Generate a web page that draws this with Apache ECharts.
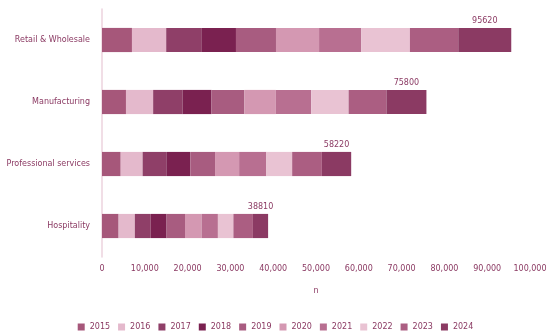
<!DOCTYPE html>
<html>
<head>
<meta charset="utf-8">
<script src="https://cdn.jsdelivr.net/npm/echarts@6/dist/echarts.min.js"></script>
<style>
  html, body { margin: 0; padding: 0; background: #ffffff; }
  #chart { width: 551px; height: 332px; }
</style>
</head>
<body>
<div id="chart"></div>
<script>
// Sectors, listed bottom to top as the category axis stacks them
const categories = ['Hospitality', 'Professional services', 'Manufacturing', 'Retail & Wholesale'];

// Yearly contributions per sector (one array per year, same order as categories)
const seriesNames = ['2015', '2016', '2017', '2018', '2019', '2020', '2021', '2022', '2023', '2024'];
const y2015 = [3880, 4370, 5600, 7000];
const y2016 = [3790, 5120, 6350, 8000];
const y2017 = [3710, 5540, 6850, 8200];
const y2018 = [3710, 5610, 6780, 8100];
const y2019 = [4300, 5770, 7690, 9350];
const y2020 = [3880, 5630, 7340, 10070];
const y2021 = [3810, 6360, 8270, 9860];
const y2022 = [3620, 6030, 8740, 11360];
const y2023 = [4560, 6940, 8830, 11300];
const y2024 = [3550, 6850, 9350, 12380];
const seriesValues = [y2015, y2016, y2017, y2018, y2019, y2020, y2021, y2022, y2023, y2024];

const palette = ['#a6577a', '#e4b9cc', '#8f3f68', '#7a2150', '#a85c80',
                 '#d498b2', '#b86f91', '#e9c3d3', '#ab5e82', '#8b3a63'];

const textColor = '#8b3a63';

// Bar totals shown above the last stacked segment
const totals = categories.map((_, i) => seriesValues.reduce((s, arr) => s + arr[i], 0));

const series = seriesNames.map((name, k) => ({
  name: name,
  type: 'bar',
  stack: 'total',
  barWidth: '39%',
  data: seriesValues[k],
  itemStyle: { color: palette[k] },
  label: k === seriesNames.length - 1 ? {
    show: true,
    position: 'top',
    distance: 3,
    color: textColor,
    fontSize: 8,
    fontFamily: 'DejaVu Sans',
    formatter: p => String(totals[p.dataIndex])
  } : { show: false }
}));

const chart = echarts.init(document.getElementById('chart'), null, { renderer: 'canvas' });
chart.setOption({
  animation: false,
  color: palette,
  grid: { left: 102, right: 21, top: 9, bottom: 75, containLabel: false },
  legend: {
    top: 318,
    left: 'center',
    itemWidth: 7,
    itemHeight: 7,
    itemGap: 8,
    icon: 'rect',
    textStyle: { color: textColor, fontSize: 8, fontFamily: 'DejaVu Sans' },
    data: seriesNames
  },
  xAxis: {
    type: 'value',
    min: 0,
    max: 100000,
    interval: 10000,
    name: 'n',
    nameLocation: 'middle',
    nameGap: 30,
    nameTextStyle: { color: textColor, fontSize: 8, fontFamily: 'DejaVu Sans' },
    axisLine: { show: false },
    axisTick: { show: false },
    splitLine: { show: false },
    axisLabel: { color: textColor, fontSize: 8, fontFamily: 'DejaVu Sans', margin: 8 }
  },
  yAxis: {
    type: 'category',
    data: categories,
    axisLine: { show: true, lineStyle: { color: '#ecd3de', width: 1.5 } },
    axisTick: { show: false },
    axisLabel: { color: textColor, fontSize: 8, fontFamily: 'DejaVu Sans', margin: 12 }
  },
  series: series
});
</script>
</body>
</html>
